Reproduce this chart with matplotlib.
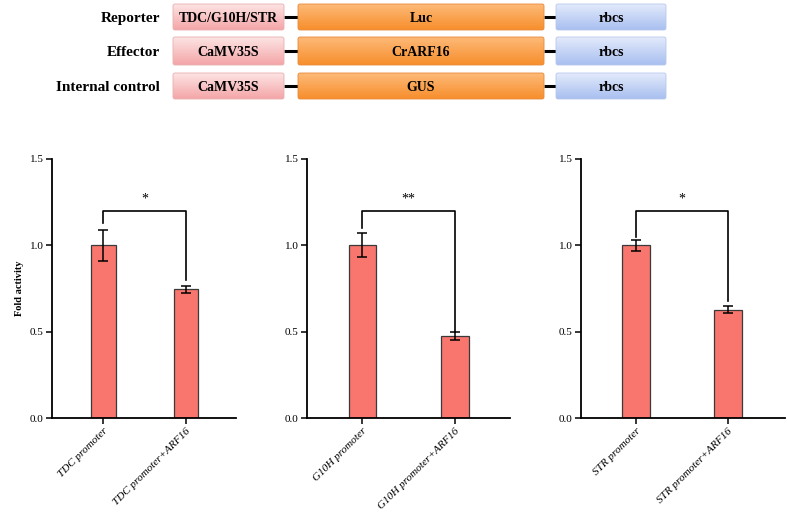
import numpy as np
import matplotlib
matplotlib.use("Agg")
import matplotlib.pyplot as plt
from matplotlib.patches import FancyBboxPatch

plt.rcParams['font.family'] = ['Liberation Serif', 'DejaVu Serif']

# ---------------- data ----------------
panel_categories = [
    ["TDC promoter", "TDC promoter+ARF16"],
    ["G10H promoter", "G10H promoter+ARF16"],
    ["STR promoter", "STR promoter+ARF16"],
]
panel_means = [
    [1.00, 0.745],
    [1.00, 0.475],
    [1.00, 0.627],
]
panel_errors = [
    [0.090, 0.022],
    [0.070, 0.021],
    [0.030, 0.021],
]
significance = ["*", "**", "*"]
bracket_height = 1.2
bracket_left_end = [1.13, 1.10, 1.05]
bracket_right_end = [0.80, 0.50, 0.677]
yticks = [0.0, 0.5, 1.0, 1.5]

construct_rows = ["Reporter", "Effector", "Internal control"]
promoters = ["TDC/G10H/STR", "CaMV35S", "CaMV35S"]
genes = ["Luc", "CrARF16", "GUS"]
terminators = ["rbcs", "rbcs", "rbcs"]

W, H = 787, 517
fig = plt.figure(figsize=(W / 100, H / 100), dpi=100)

# ---------------- construct diagram ----------------
dax = fig.add_axes([0, 0, 1, 1])
dax.set_xlim(0, W)
dax.set_ylim(H, 0)
dax.axis('off')

row_spans = [(4, 30), (37, 65), (73, 99)]
pink_x = (173, 284)
orange_x = (298, 544)
blue_x = (556, 666)
pink_grad = ("#FDE4E4", "#F4A5A7")
orange_grad = ("#FDBA78", "#F78E2C")
blue_grad = ("#E3EAFB", "#A8BFF0")


def grad_box(x0, x1, y0, y1, cols, edge):
    c0 = np.array(matplotlib.colors.to_rgb(cols[0]))
    c1 = np.array(matplotlib.colors.to_rgb(cols[1]))
    t = np.linspace(0, 1, 64)[:, None]
    img = (c0[None, :] * (1 - t) + c1[None, :] * t)[:, None, :]
    img = np.repeat(img, 2, axis=1)
    patch = FancyBboxPatch((x0, y0), x1 - x0, y1 - y0,
                           boxstyle="round,pad=0,rounding_size=2",
                           facecolor='none', edgecolor=edge, linewidth=0.6, zorder=3)
    dax.add_patch(patch)
    im = dax.imshow(img, extent=(x0, x1, y1, y0), aspect='auto', zorder=2,
                    interpolation='bilinear')
    im.set_clip_path(patch)


for i, (y0, y1) in enumerate(row_spans):
    yc = (y0 + y1) / 2
    dax.plot([pink_x[1], orange_x[0]], [yc, yc], color='black', lw=2.2, zorder=1,
             solid_capstyle='butt')
    dax.plot([orange_x[1], blue_x[0]], [yc, yc], color='black', lw=2.2, zorder=1,
             solid_capstyle='butt')
    grad_box(pink_x[0], pink_x[1], y0, y1, pink_grad, "#E8B0B2")
    grad_box(orange_x[0], orange_x[1], y0, y1, orange_grad, "#E88A3A")
    grad_box(blue_x[0], blue_x[1], y0, y1, blue_grad, "#B8C8EC")
    dax.text(160, yc, construct_rows[i], ha='right', va='center_baseline',
             fontsize=11, fontweight='bold')
    for xs_, s_ in ((pink_x, promoters[i]), (orange_x, genes[i]),
                    (blue_x, terminators[i])):
        dax.text(sum(xs_) / 2, yc, s_, ha='center', va='center_baseline',
                 fontsize=10, fontweight='bold', zorder=5)

# ---------------- bar panels ----------------
panel_px = [(52, 236), (307, 510), (581, 785)]
panel_xlims = [(-0.624, 1.606), (-0.6, 1.595), (-0.6, 1.62)]
y_bottom = 1 - 418 / H
y_top = 1 - 159 / H
bar_color = "#F8766D"

for p in range(3):
    x0, x1 = panel_px[p]
    ax = fig.add_axes([x0 / W, y_bottom, (x1 - x0) / W, y_top - y_bottom])
    xs = np.arange(len(panel_categories[p]))
    ax.bar(xs, panel_means[p], width=0.30, color=bar_color, edgecolor='#3a3a3a',
           linewidth=0.9, zorder=2)
    ax.errorbar(xs, panel_means[p], yerr=panel_errors[p], fmt='none',
                ecolor='black', elinewidth=1.1, capsize=3.5, capthick=1.1, zorder=3)
    ax.set_xlim(*panel_xlims[p])
    ax.set_ylim(0, 1.5)
    ax.set_yticks(yticks)
    ax.set_yticklabels([f"{v:.1f}" for v in yticks], fontsize=8)
    ax.set_xticks(xs)
    ax.set_xticklabels(panel_categories[p], rotation=45, ha='right', va='top',
                       rotation_mode='anchor', fontsize=8, fontstyle='italic')
    for s in ['top', 'right']:
        ax.spines[s].set_visible(False)
    for s in ['left', 'bottom']:
        ax.spines[s].set_linewidth(1.3)
    ax.tick_params(axis='both', direction='out', length=4, width=1.1, pad=2)
    # significance bracket
    ax.plot([0, 0, 1, 1],
            [bracket_left_end[p], bracket_height, bracket_height, bracket_right_end[p]],
            color='black', lw=1.2, zorder=4)
    ax.text(0.5, bracket_height + 0.03, significance[p], ha='center', va='bottom',
            fontsize=10)
    if p == 0:
        ax.set_ylabel("Fold activity", fontsize=7.5, fontweight='bold', labelpad=4)

fig.savefig("out.png", dpi=100)
